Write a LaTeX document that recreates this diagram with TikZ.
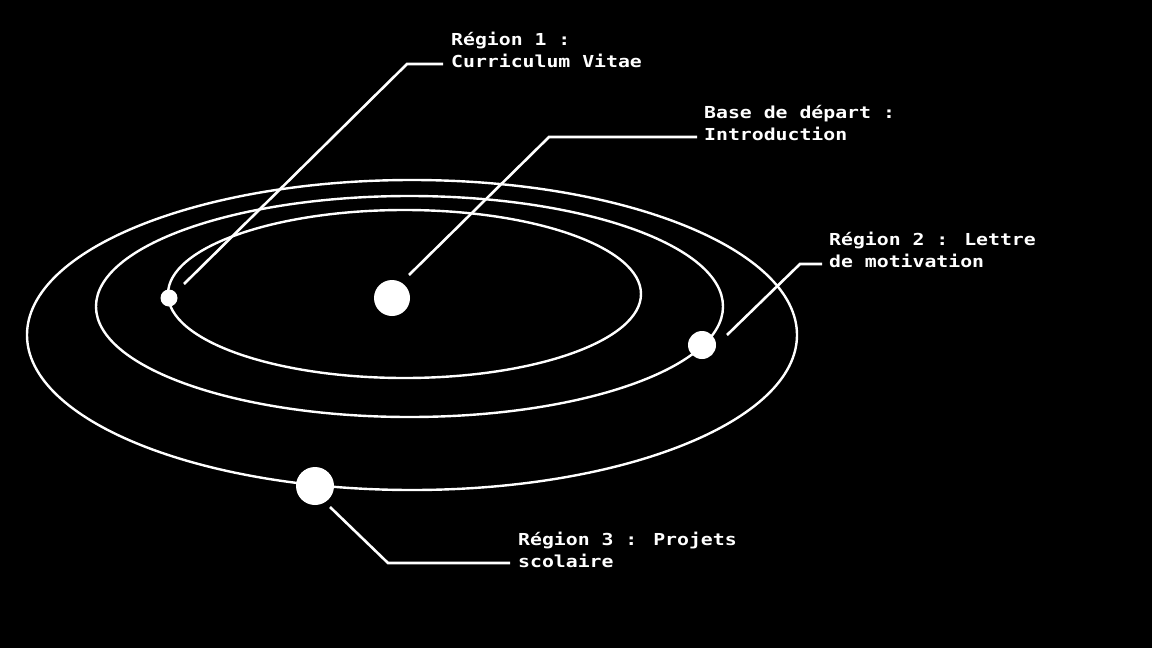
\documentclass[tikz,border=0pt]{standalone}
\usepackage{fontspec}
\newfontfamily\pxfont[FakeStretch=1.2]{DejaVu Sans Mono Bold}
\begin{document}
\begin{tikzpicture}[x=1pt,y=-1pt,
  orbit/.style={draw=white,line width=2.4pt},
  planet/.style={circle,fill=white,inner sep=0pt},
  leader/.style={draw=white,line width=2.6pt},
  lbl/.style={text=white,font=\pxfont\fontsize{16.5}{22}\selectfont,align=left,inner sep=0pt,anchor=base west}]
\fill[black] (0,0) rectangle (1152,648);
\useasboundingbox (0,0) rectangle (1152,648);
% orbits
\draw[orbit] (404.5,294) ellipse [x radius=236.5pt, y radius=84pt];
\draw[orbit] (409.5,306.5) ellipse [x radius=313.5pt, y radius=110.5pt];
\draw[orbit] (412,335) ellipse [x radius=385pt, y radius=155pt];
% planets
\node[planet,minimum size=17pt] (cv) at (169,298) {};
\node[planet,minimum size=36pt] (intro) at (392,298) {};
\node[planet,minimum size=28pt] (lettre) at (702,345) {};
\node[planet,minimum size=38pt] (projets) at (315,486) {};
% labels (anchor = baseline of the last line)
\node[lbl] (l1) at (451,67) {Région 1 :\\Curriculum Vitae};
\node[lbl] (l0) at (704,140) {Base de départ :\\Introduction};
\node[lbl] (l2) at (829,267) {Région 2 : Lettre\\de motivation};
\node[lbl] (l3) at (518,567) {Région 3 : Projets\\scolaire};
% leader coordinates
\coordinate (s1) at (184,284); \coordinate (e1) at (407,64); \coordinate (t1) at (443,64);
\coordinate (s0) at (409,275); \coordinate (e0) at (549,137); \coordinate (t0) at (697,137);
\coordinate (s2) at (727,335); \coordinate (e2) at (800,264); \coordinate (t2) at (822,264);
\coordinate (s3) at (330,507); \coordinate (e3) at (388,563); \coordinate (t3) at (510,563);
\draw[leader] (s1) -- (e1) -- (t1);
\draw[leader] (s0) -- (e0) -- (t0);
\draw[leader] (s2) -- (e2) -- (t2);
\draw[leader] (s3) -- (e3) -- (t3);
\end{tikzpicture}
\end{document}
